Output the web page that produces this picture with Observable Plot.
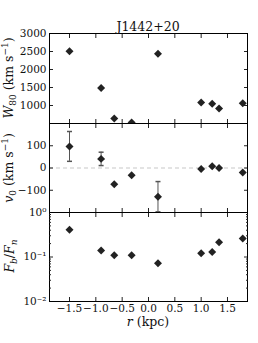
<!DOCTYPE html>
<html><head><meta charset="utf-8">
<script src="https://cdn.jsdelivr.net/npm/d3@7"></script>
<script src="https://cdn.jsdelivr.net/npm/@observablehq/plot@0.6"></script>
<style>
body{margin:0;background:#fff;width:258px;height:343px;position:relative;overflow:hidden;font-family:"DejaVu Serif",serif}
.p{position:absolute;left:0}
.p svg{overflow:visible;background:transparent}
</style></head><body>
<div id="p1" class="p" style="top:0px"></div>
<div id="p2" class="p" style="top:122px"></div>
<div id="p3" class="p" style="top:211px"></div>
<script>
const title = "J1442+20";
const rKpc = [-1.5, -0.90, -0.65, -0.32, 0.18, 1.0, 1.21, 1.34, 1.79];
const w80 = [2510, 1483, 637, 530, 2436, 1084, 1047, 916, 1064];
const v0 = [97, 41, -73, -33, -129, -4, 8, 0, -20];
const v0Err = [67, 30, 0, 0, 68, 0, 0, 0, 0];
const fRatio = [0.41, 0.14, 0.11, 0.11, 0.072, 0.122, 0.13, 0.215, 0.26];
const xTicks = [-1.5, -1, -0.5, 0, 0.5, 1, 1.5];
const w80Ticks = [1000, 1500, 2000, 2500, 3000];
const w80TicksAll = [500, 1000, 1500, 2000, 2500, 3000];
const v0Ticks = [-100, 0, 100];
const v0TicksAll = [-200, -100, 0, 100, 200];
const fTicks = [0.01, 0.1, 1];
const fTickLabels = {"0.01": "10\u207B\u00B2", "0.1": "10\u207B\u00B9", "1": "10\u2070"};
const fMinor = [0.02,0.03,0.04,0.05,0.06,0.07,0.08,0.09,0.2,0.3,0.4,0.5,0.6,0.7,0.8,0.9];

const rows = rKpc.map((r, i) => ({r, w: w80[i], v: v0[i], e: v0Err[i], f: fRatio[i]}));
const errRows = rows.filter(d => d.e > 0);

const INK = "#222";
const fmtX = d => (d < 0 ? "\u2212" : "") + Math.abs(d).toFixed(1);
const fmtY = d => (d < 0 ? "\u2212" : "") + Math.abs(d);
const capSymbol = {draw(ctx, size){ const w = Math.sqrt(size/Math.PI); ctx.moveTo(-w,0); ctx.lineTo(w,0); }};

function tickOnly(fn, data, anchor, size) {
  return fn(data, {anchor, tickSize: size, fill: "none", stroke: INK, label: null});
}
function common(yTicksAll) {
  return [
    tickOnly(Plot.axisX, xTicks, "top", -4),
    tickOnly(Plot.axisX, xTicks, "bottom", -4),
    tickOnly(Plot.axisY, yTicksAll, "left", -4),
    tickOnly(Plot.axisY, yTicksAll, "right", -4),
    Plot.frame({stroke: "#000", strokeWidth: 1})
  ];
}
const base = {
  width: 258, marginLeft: 49, marginRight: 11,
  x: {domain: [-1.88, 1.88], label: null},
  style: {fontFamily: "DejaVu Serif", fontSize: "10.5px", background: "transparent", overflow: "visible", color: "#111"}
};

function ylabel(svg, cx, cy, parts) {
  const t = d3.select(svg).append("text")
    .attr("transform", `translate(${cx},${cy}) rotate(-90)`)
    .attr("text-anchor", "middle")
    .attr("font-family", "DejaVu Serif").attr("font-size", 12.5).attr("fill", "#111");
  let shift = 0;
  for (const p of parts) {
    const ts = t.append("tspan").text(p.t);
    if (p.i) ts.attr("font-style", "italic");
    const want = p.sub ? 3 : p.sup ? -5 : 0;
    if (want !== shift) { ts.attr("dy", want - shift); shift = want; }
    if (p.sub || p.sup) ts.attr("font-size", 9);
  }
}

const p1 = Plot.plot({
  ...base, height: 124, marginTop: 33, marginBottom: 1,
  y: {domain: [500, 3000], label: null},
  marks: [
    ...common(w80TicksAll),
    Plot.axisY(w80Ticks, {anchor: "left", tickSize: 0, tickPadding: 3, label: null, tickFormat: fmtY}),
    Plot.dot(rows, {x: "r", y: "w", symbol: "diamond2", r: 3.6, fill: INK, stroke: "none", clip: true})
  ]
});
document.getElementById("p1").appendChild(p1);
d3.select(p1).append("text").attr("x", 148).attr("y", 31).attr("text-anchor", "middle")
  .attr("font-family", "DejaVu Serif").attr("font-size", 12.5).attr("fill", "#111").text(title);
ylabel(p1, 13, 78, [{t: "W", i: true}, {t: "80", sub: true}, {t: " (km s"}, {t: "\u22121", sup: true}, {t: ")"}]);

const p2 = Plot.plot({
  ...base, height: 91, marginTop: 1, marginBottom: 1,
  y: {domain: [-200, 200], label: null},
  marks: [
    Plot.ruleY([0], {stroke: "#c8c8c8", strokeDasharray: "4,3", strokeWidth: 1.2}),
    ...common(v0TicksAll),
    Plot.axisY(v0Ticks, {anchor: "left", tickSize: 0, tickPadding: 3, label: null, tickFormat: fmtY}),
    Plot.ruleX(errRows, {x: "r", y1: d => d.v - d.e, y2: d => d.v + d.e, stroke: "#555", strokeWidth: 1, clip: true}),
    Plot.dot(errRows, {x: "r", y: d => d.v + d.e, symbol: capSymbol, r: 2.5, stroke: "#555", fill: "none", clip: true}),
    Plot.dot(errRows, {x: "r", y: d => d.v - d.e, symbol: capSymbol, r: 2.5, stroke: "#555", fill: "none", clip: true}),
    Plot.dot(rows, {x: "r", y: "v", symbol: "diamond2", r: 3.6, fill: INK, stroke: "none"})
  ]
});
document.getElementById("p2").appendChild(p2);
ylabel(p2, 13, 46, [{t: "v", i: true}, {t: "0", sub: true}, {t: " (km s"}, {t: "\u22121", sup: true}, {t: ")"}]);

const p3 = Plot.plot({
  ...base, height: 132, marginTop: 1, marginBottom: 42,
  y: {type: "log", domain: [0.01, 1], label: null},
  marks: [
    ...common(fTicks),
    tickOnly(Plot.axisY, fMinor, "left", -2),
    tickOnly(Plot.axisY, fMinor, "right", -2),
    Plot.axisY(fTicks, {anchor: "left", tickSize: 0, tickPadding: 3, label: null, tickFormat: d => fTickLabels[String(d)]}),
    Plot.axisX(xTicks, {anchor: "bottom", tickSize: 0, tickPadding: 3, label: null, tickFormat: fmtX}),
    Plot.dot(rows, {x: "r", y: "f", symbol: "diamond2", r: 3.6, fill: INK, stroke: "none"})
  ]
});
document.getElementById("p3").appendChild(p3);
ylabel(p3, 14, 45, [{t: "F", i: true}, {t: "b", i: true, sub: true}, {t: "/"}, {t: "F", i: true}, {t: "n", i: true, sub: true}]);
const xl = d3.select(p3).append("text").attr("x", 148).attr("y", 115).attr("text-anchor", "middle")
  .attr("font-family", "DejaVu Serif").attr("font-size", 12.5).attr("fill", "#111");
xl.append("tspan").attr("font-style", "italic").text("r");
xl.append("tspan").text(" (kpc)");
</script>
</body></html>
